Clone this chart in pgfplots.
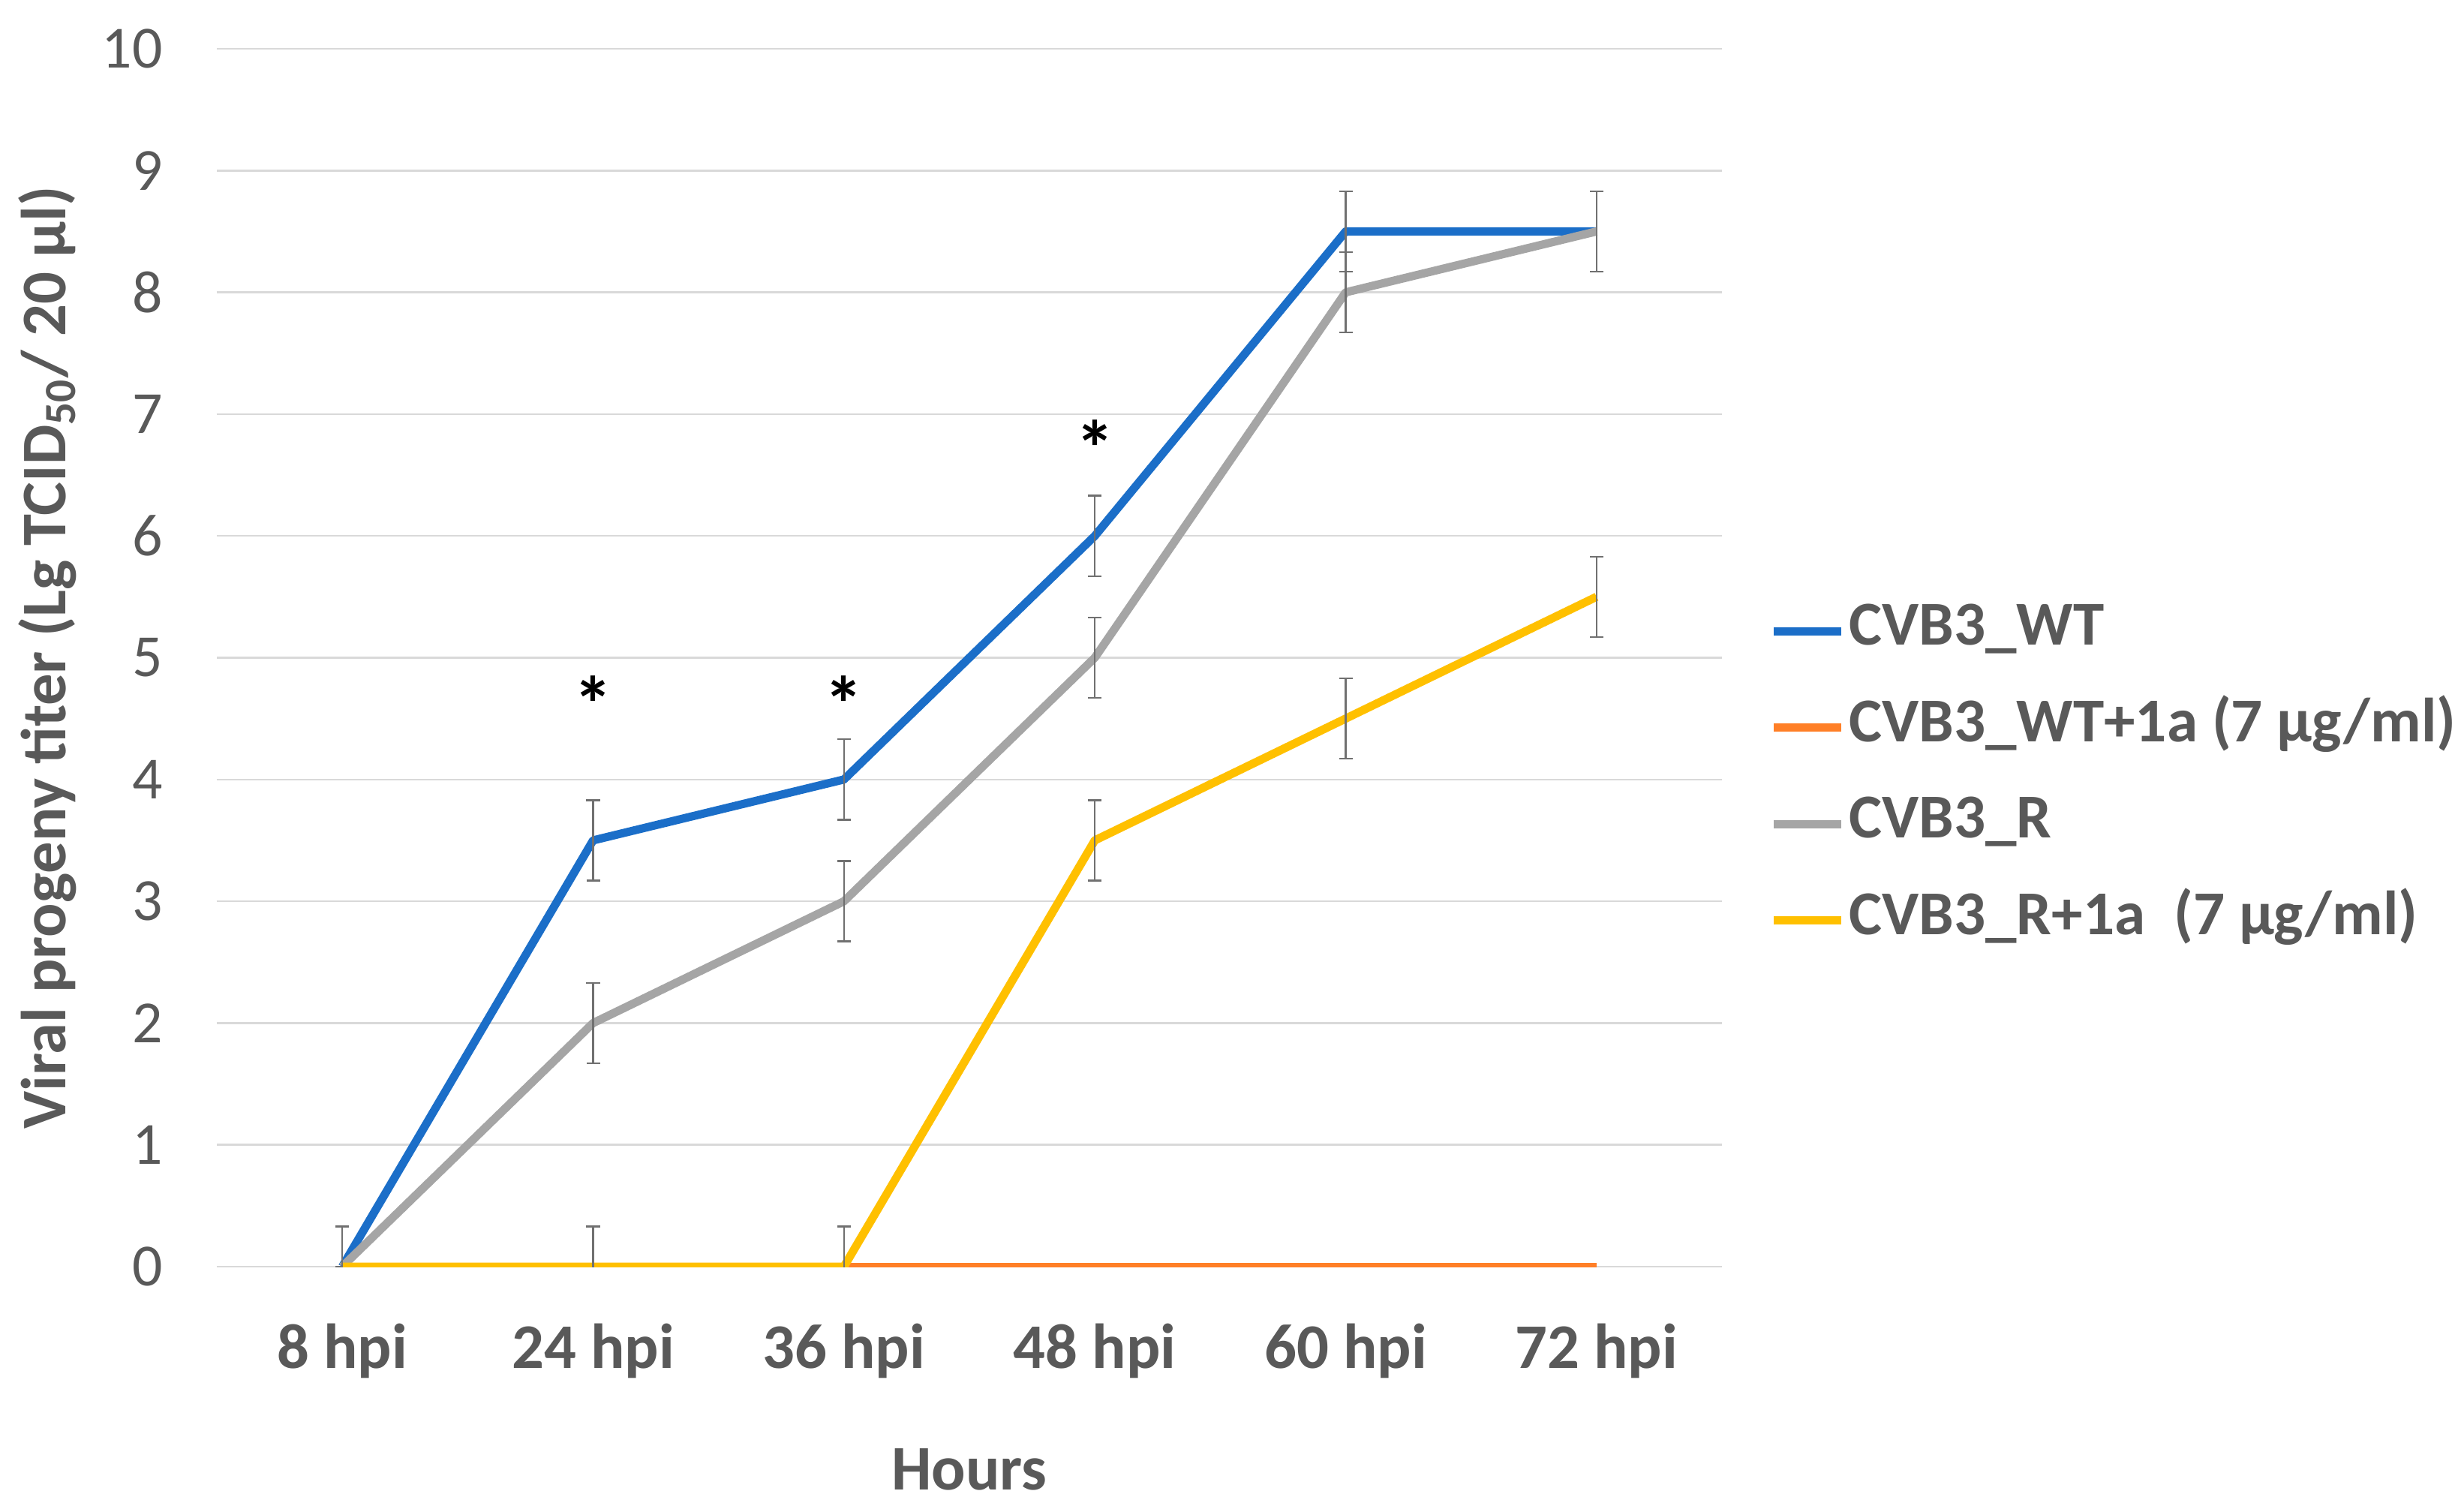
\documentclass[border=0pt]{standalone}
\usepackage{fontspec}
\setmainfont{Carlito}
\usepackage{pgfplots}
\pgfplotsset{compat=1.18}

\definecolor{cblue}{HTML}{1B6EC8}
\definecolor{corange}{HTML}{FF7F27}
\definecolor{cgray}{HTML}{A5A5A5}
\definecolor{cyellow}{HTML}{FFC000}
\definecolor{txt}{HTML}{595959}
\definecolor{gridc}{HTML}{D9D9D9}
\definecolor{errc}{HTML}{707070}

\begin{document}
\begin{tikzpicture}
\path[use as bounding box] (-57.8bp,-64.6bp) rectangle (599bp,337.6bp);
\begin{axis}[
  scale only axis, width=401.2bp, height=324.6bp,
  xmin=-0.5, xmax=5.5, ymin=0, ymax=10,
  xtick={0,...,5},
  xticklabels={8 hpi,24 hpi,36 hpi,48 hpi,60 hpi,72 hpi},
  ytick={0,...,10},
  axis line style={draw=none},
  major tick length=0pt,
  ymajorgrids, grid style={line width=0.5bp, gridc},
  /pgf/number format/assume math mode=true,
  tick label style={text=txt},
  yticklabel style={font=\fontsize{16}{16}\selectfont, xshift=-11bp},
  xticklabel style={font=\bfseries\fontsize{17}{17}\selectfont, anchor=center, yshift=-22.5bp},
  xlabel={Hours},
  xlabel style={at={(axis description cs:0.5,0)}, anchor=center, yshift=-54bp,
    font=\bfseries\fontsize{17}{17}\selectfont, text=txt},
  ylabel={Viral progeny titer (Lg TCID\textsubscript{50}/ 20 µl)},
  ylabel style={at={([xshift=-45.2bp]axis description cs:0,0.5)}, anchor=center,
    font=\bfseries\fontsize{17}{17}\selectfont, text=txt},
  legend style={at={(axis description cs:1,0.403)}, anchor=west, xshift=12.5bp,
    draw=none, fill=none, font=\bfseries\fontsize{16.7}{16.7}\selectfont, text=txt,
    row sep=7.2bp, inner sep=0pt,
    nodes={inner sep=1bp, text height=12bp, text depth=4.5bp}},
  legend cell align=left,
  legend image code/.code={\draw[#1, line width=2.2bp] (0bp,0bp) -- (18bp,0bp);},
  error bars/error bar style={line width=0.5bp, errc},
  error bars/error mark options={rotate=90, mark size=1.8bp, line width=0.5bp, errc},
]
% CVB3_WT
\addplot[cblue, line width=2.2bp, line join=round, mark=none,
  error bars/.cd, y dir=both, y explicit] table[x=x, y=y, y error=e] {
x y e
0 0 0
1 3.5 0.33
2 4 0.33
3 6 0.33
4 8.5 0.33
5 8.5 0.33
};
\addlegendentry{CVB3\_WT}
% CVB3_WT+1a
\addplot[corange, line width=2.2bp, line join=round, mark=none] table[x=x, y=y] {
x y
0 0
1 0
2 0
3 0
4 0
5 0
};
\addlegendentry{CVB3\_WT+1a (7 µg/ml)}
% CVB3_R
\addplot[cgray, line width=2.2bp, line join=round, mark=none,
  error bars/.cd, y dir=both, y explicit] table[x=x, y=y, y error=e] {
x y e
0 0 0
1 2 0.33
2 3 0.33
3 5 0.33
4 8 0.33
5 8.5 0.33
};
\addlegendentry{CVB3\_R}
% CVB3_R+1a
\addplot[cyellow, line width=2.2bp, line join=round, mark=none,
  error bars/.cd, y dir=both, y explicit] table[x=x, y=y, y error=e] {
x y e
0 0 0.33
1 0 0.33
2 0 0.33
3 3.5 0.33
4 4.5 0.33
5 5.5 0.33
};
\addlegendentry{CVB3\_R+1a\ \ (7 µg/ml)}
% significance marks
\addplot[forget plot, only marks, mark=none,
  nodes near coords={\textbf{*}}, nodes near coords align={center},
  every node near coord/.append style={font=\fontsize{21}{21}\selectfont, text=black}]
  coordinates {(1,4.62) (2,4.62) (3,6.72)};
\end{axis}
\end{tikzpicture}
\end{document}
